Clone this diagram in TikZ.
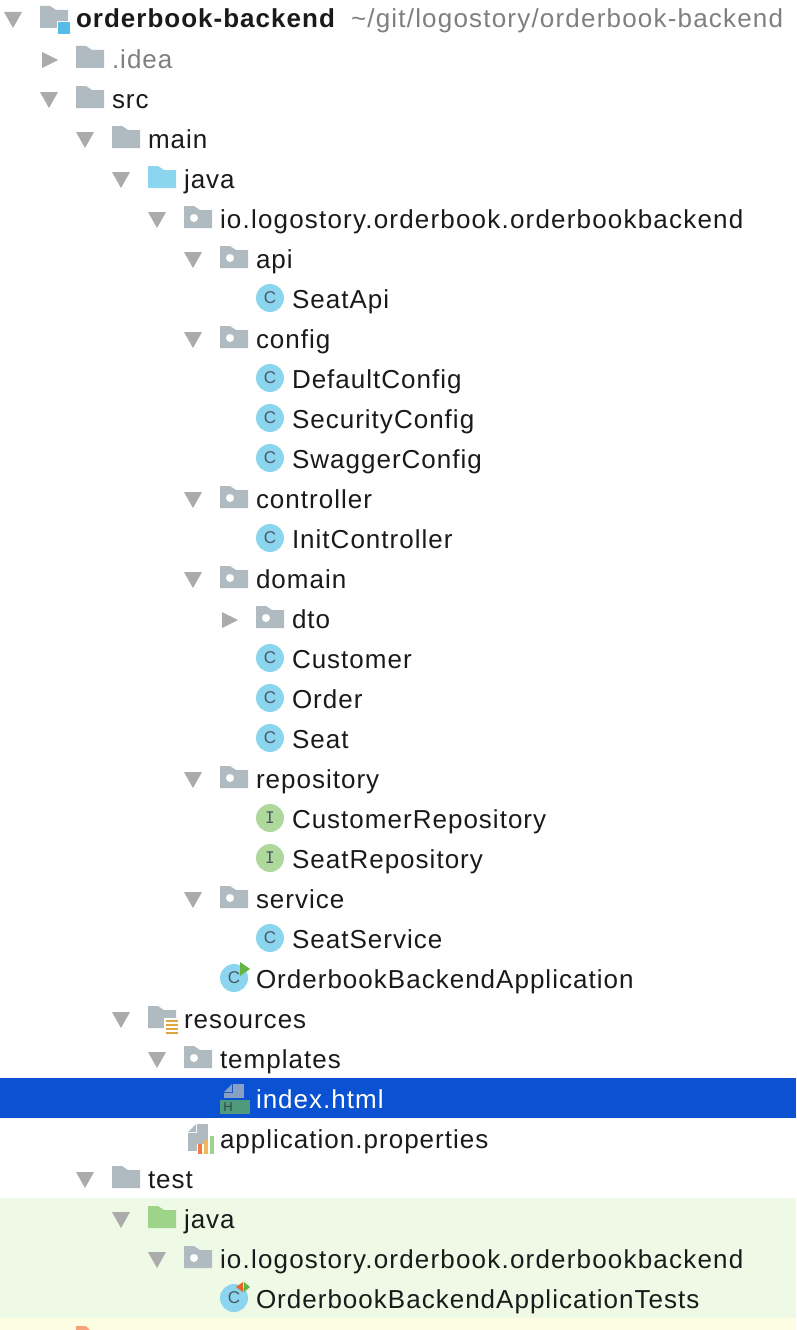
\documentclass[tikz,border=0pt]{standalone}
\usepackage{fontspec}
\setmainfont{Liberation Sans}
\newfontfamily\iconfont{DejaVu Sans Mono}
\newfontfamily\lblfont[LetterSpace=3.9]{Liberation Sans}
\newfontfamily\widefont[LetterSpace=4.6]{Liberation Sans}
\newfontfamily\boldlbl[LetterSpace=3.9]{Liberation Sans Bold}
\definecolor{fold}{HTML}{AFBAC1}
\definecolor{tri}{HTML}{ABABAB}
\definecolor{cblue}{HTML}{8BD5EE}
\definecolor{igreen}{HTML}{AFD89D}
\definecolor{glyph}{HTML}{4A5861}
\definecolor{txt}{HTML}{1A1A1A}
\definecolor{sel}{HTML}{0A52D2}
\definecolor{testbg}{HTML}{EEF9E6}
\definecolor{yellowbg}{HTML}{FDFDE3}
\definecolor{tgreen}{HTML}{9ED48A}
\definecolor{rootblue}{HTML}{54BCE6}
\definecolor{resorange}{HTML}{E0A63E}
\definecolor{runG}{HTML}{62B543}
\definecolor{runR}{HTML}{E8652A}
\definecolor{htmlG}{HTML}{4F9A7C}
\definecolor{htmlD}{HTML}{8A9FC4}
\definecolor{htmlH}{HTML}{2B4A48}
\definecolor{barR}{HTML}{F27B43}
\definecolor{barY}{HTML}{F4B65C}
\definecolor{pathc}{HTML}{7F7F7F}
\newcommand{\trd}[2]{\fill[tri] (#1,#2-7) -- ++(18,0) -- ++(-9,16) -- cycle;}
\newcommand{\trr}[2]{\fill[tri] (#1+2,#2-7) -- ++(16,8) -- ++(-16,8) -- cycle;}
\newcommand{\fld}[3]{\fill[#1] (#2,#3-13) -- ++(10,0) -- ++(6,4) -- ++(12,0) -- ++(0,18) -- ++(-28,0) -- cycle;}
\newcommand{\pkg}[2]{\fld{fold}{#1}{#2}\fill[white] (#1+10,#2-1) circle[radius=4];}
\newcommand{\cls}[3]{\fill[cblue] (#1,#2-1) circle[radius=14];\node[cglyph] (#3) at (#1,#2-1) {C};}
\newcommand{\ifc}[3]{\fill[igreen] (#1,#2-1) circle[radius=14];\node[iglyph] (#3) at (#1,#2-1) {I};}
\begin{document}
\begin{tikzpicture}[x=1pt,y=-1pt,
  lbl/.style={anchor=base west,inner sep=0pt,outer sep=0pt,font=\lblfont\fontsize{26}{28}\selectfont,text=txt},
  wlbl/.style={lbl,font=\widefont\fontsize{26}{28}\selectfont},
  cglyph/.style={inner sep=0pt,font=\fontsize{17}{17}\selectfont,text=glyph},
  iglyph/.style={inner sep=0pt,font=\iconfont\fontsize{16}{16}\selectfont,text=glyph}]
\useasboundingbox (0,0) rectangle (796,1330);
\fill[white] (0,0) rectangle (796,1330);
\fill[sel] (0,1078) rectangle (796,1118);
\fill[testbg] (0,1198) rectangle (796,1318);
\fill[yellowbg] (0,1318) rectangle (796,1330);
\fill[barR!70!white] (76,1330) -- (76,1326) -- (86,1326) -- (90,1330) -- cycle;
% root
\trd{4}{19}
\fld{fold}{40}{19}
\fill[white] (57,21) rectangle (71,35);
\fill[rootblue] (58,22) rectangle (70,34);
\node[lbl,font=\boldlbl\fontsize{26}{28}\selectfont] (root) at (76,28) {orderbook-backend};
\node[wlbl,text=pathc] (rootpath) at (351,28) {\textasciitilde/git/logostory/orderbook-backend};
% .idea
\trr{40}{59}\fld{fold}{76}{59}
\node[lbl,text=pathc] (idea) at (112,68) {.idea};
\trd{40}{99}\fld{fold}{76}{99}
\node[lbl] (src) at (112,108) {src};
\trd{76}{139}\fld{fold}{112}{139}
\node[lbl] (main) at (148,148) {main};
\trd{112}{179}\fld{cblue}{148}{179}
\node[lbl] (java) at (184,188) {java};
\trd{148}{219}\pkg{184}{219}
\node[wlbl] (pk) at (220,228) {io.logostory.orderbook.orderbookbackend};
\trd{184}{259}\pkg{220}{259}
\node[lbl] (api) at (256,268) {api};
\cls{270}{299}{i1}\node[lbl] (seatapi) at (292,308) {SeatApi};
\trd{184}{339}\pkg{220}{339}
\node[lbl] (config) at (256,348) {config};
\cls{270}{379}{i2}\node[lbl] (dc) at (292,388) {DefaultConfig};
\cls{270}{419}{i3}\node[lbl] (sc) at (292,428) {SecurityConfig};
\cls{270}{459}{i4}\node[lbl] (swc) at (292,468) {SwaggerConfig};
\trd{184}{499}\pkg{220}{499}
\node[lbl] (controller) at (256,508) {controller};
\cls{270}{539}{i5}\node[lbl] (ic) at (292,548) {InitController};
\trd{184}{579}\pkg{220}{579}
\node[lbl] (domain) at (256,588) {domain};
\trr{220}{619}\pkg{256}{619}
\node[lbl] (dto) at (292,628) {dto};
\cls{270}{659}{i6}\node[lbl] (cust) at (292,668) {Customer};
\cls{270}{699}{i7}\node[lbl] (order) at (292,708) {Order};
\cls{270}{739}{i8}\node[lbl] (seat) at (292,748) {Seat};
\trd{184}{779}\pkg{220}{779}
\node[lbl] (repo) at (256,788) {repository};
\ifc{270}{819}{i9}\node[lbl] (cr) at (292,828) {CustomerRepository};
\ifc{270}{859}{i10}\node[lbl] (sr) at (292,868) {SeatRepository};
\trd{184}{899}\pkg{220}{899}
\node[lbl] (service) at (256,908) {service};
\cls{270}{939}{i11}\node[lbl] (ss) at (292,948) {SeatService};
\cls{234}{979}{i12}\fill[runG] (240,962) -- (250,969) -- (240,976) -- cycle;
\node[lbl] (oba) at (256,988) {OrderbookBackendApplication};
% resources
\trd{112}{1019}\fld{fold}{148}{1019}
\fill[white] (164,1018) rectangle (180,1036);
\foreach \yy in {1020,1024,1028,1032}{\fill[resorange] (166,\yy) rectangle (178,\yy+2);}
\node[lbl] (res) at (184,1028) {resources};
\trd{148}{1059}\pkg{184}{1059}
\node[lbl] (tpl) at (220,1068) {templates};
% index.html
\fill[htmlD] (224,1092) -- (232,1084) -- (232,1092) -- cycle;
\fill[htmlD] (233,1084) rectangle (244,1098);
\fill[htmlD] (224,1093) rectangle (244,1098);
\fill[htmlG] (220,1100) rectangle (250,1114);
\node[inner sep=0pt,font=\fontsize{13}{13}\selectfont,text=htmlH] (h) at (228,1107.5) {H};
\node[lbl,text=white] (idx) at (256,1108) {index.html};
% properties
\fill[fold] (188,1132) -- (196,1124) -- (196,1132) -- cycle;
\fill[fold] (197,1124) rectangle (208,1140);
\fill[fold] (188,1133) rectangle (197,1151);
\fill[fold] (197,1140) rectangle (204,1144);
\fill[barR] (198,1144) rectangle (202,1154);
\fill[barY] (204,1140) rectangle (208,1154);
\fill[tgreen] (210,1136) rectangle (214,1154);
\node[lbl] (app) at (220,1148) {application.properties};
% test
\trd{76}{1179}\fld{fold}{112}{1179}
\node[lbl] (test) at (148,1188) {test};
\trd{112}{1219}\fld{tgreen}{148}{1219}
\node[lbl] (tjava) at (184,1228) {java};
\trd{148}{1259}\pkg{184}{1259}
\node[wlbl] (tpk) at (220,1268) {io.logostory.orderbook.orderbookbackend};
\cls{234}{1299}{i13}
\fill[runR] (243,1282) -- (236,1287) -- (243,1292) -- cycle;
\fill[runG] (244,1282) -- (250,1287) -- (244,1292) -- cycle;
\node[lbl] (obat) at (256,1308) {OrderbookBackendApplicationTests};
\end{tikzpicture}
\end{document}
